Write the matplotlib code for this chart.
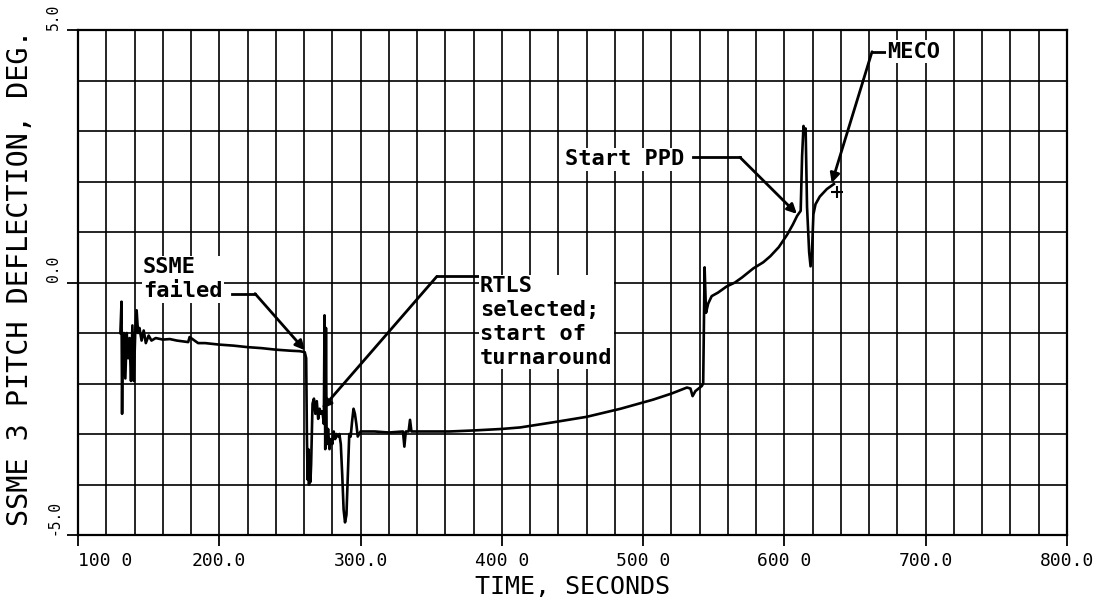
import numpy as np
import matplotlib.pyplot as plt

# trace
time_s = [130.0, 130.8, 131.2, 131.6, 132.5, 133.5, 134.5, 135.5, 136.5, 137.5,
          138.5, 139.5, 140.5, 141.5, 142.5, 143.5, 145.0, 146.5, 148.0, 150.0,
          152.0, 155.0, 160.0, 165.0, 170.0, 175.0, 178.0, 179.0, 185.0, 190.0,
          200.0, 210.0, 220.0, 230.0, 240.0, 250.0, 257.0, 260.5,
          261.5, 262.0, 262.5, 263.0, 263.5, 264.0, 264.5, 265.0, 265.5, 266.0,
          267.0, 268.0, 269.0, 270.0, 271.0, 272.0, 273.0, 274.0, 274.5, 275.0,
          275.5, 276.0, 277.0, 278.0, 279.0, 280.0, 281.0, 282.0, 283.0, 284.0,
          285.0, 286.0, 287.0, 288.0, 289.0, 290.0, 291.0, 292.0, 293.0, 294.0,
          295.0, 296.0, 297.0, 298.0, 300.0, 310.0, 320.0, 330.0, 331.0, 332.0,
          334.0, 335.0, 336.0, 350.0, 363.0, 380.0, 400.0, 413.0, 436.0, 460.0,
          484.0, 507.0, 520.0, 531.0, 533.5, 535.0, 537.0, 541.5, 542.5, 543.5,
          544.5, 546.0, 548.5, 553.0, 559.0, 565.0, 570.0, 578.0, 585.0, 590.0,
          596.0, 602.0, 606.0, 609.0, 611.5, 612.5, 613.5, 614.3, 615.0, 616.0,
          617.5, 618.5, 619.5, 620.5, 622.0, 625.0, 630.0, 635.0]
pitch_deg = [-1.0, -0.38, -2.6, -1.2, -1.0, -1.9, -1.0, -1.5, -1.1, -1.95,
             -0.85, -1.95, -1.0, -0.55, -1.0, -0.9, -1.15, -0.95, -1.2, -1.05,
             -1.15, -1.1, -1.13, -1.12, -1.15, -1.17, -1.18, -1.08, -1.2, -1.2,
             -1.23, -1.25, -1.28, -1.3, -1.33, -1.35, -1.36, -1.38,
             -1.5, -3.0, -3.9, -3.3, -4.0, -3.5, -3.95, -3.6, -3.0, -2.4,
             -2.3, -2.6, -2.35, -2.7, -2.5, -2.6, -2.55, -2.8, -0.65, -3.3,
             -0.9, -3.2, -2.9, -3.3, -3.1, -3.2, -2.95, -3.1, -3.0, -3.05,
             -3.0, -3.2, -3.8, -4.5, -4.75, -4.6, -3.8, -3.0, -3.05, -2.75,
             -2.5, -2.6, -2.8, -3.05, -2.95, -2.95, -2.97, -2.95, -3.25, -2.95,
             -2.95, -2.72, -2.95, -2.95, -2.95, -2.93, -2.9, -2.87, -2.77, -2.66,
             -2.5, -2.32, -2.2, -2.08, -2.1, -2.25, -2.15, -2.05, -2.0, 0.3,
             -0.6, -0.42, -0.27, -0.2, -0.08, 0.0, 0.1, 0.28, 0.4, 0.52,
             0.7, 0.95, 1.15, 1.32, 1.42, 2.5, 3.1, 2.95, 3.05, 1.5,
             0.6, 0.32, 0.6, 1.35, 1.55, 1.7, 1.85, 1.95]
end_mark = (637.5, 1.8)

x_ticks = [100, 200, 300, 400, 500, 600, 700, 800]
x_tick_labels = ["100 0", "200.0", "300.0", "400 0", "500 0", "600 0", "700.0", "800.0"]
y_ticks = [-5, 0, 5]
y_tick_labels = ["-5.0", "0.0", "5.0"]

mono = "DejaVu Sans Mono"

fig = plt.figure(figsize=(11.07, 6.14), dpi=100)
ax = fig.add_axes([78 / 1107, 1 - 535 / 614, 989 / 1107, 505 / 614])

ax.set_xlim(100, 800)
ax.set_ylim(-5, 5)
ax.set_xticks(x_ticks)
ax.set_xticklabels(x_tick_labels, fontfamily=mono, fontsize=13)
ax.get_xticklabels()[0].set_ha("left")
ax.set_xticks(np.arange(100, 801, 20), minor=True)
ax.set_yticks(y_ticks)
ax.set_yticklabels(y_tick_labels, fontfamily=mono, fontsize=10.5, rotation=90, va="bottom")
ax.set_yticks(np.arange(-5, 6, 1), minor=True)
ax.grid(which="both", color="k", lw=1.2)
ax.set_axisbelow(True)
ax.tick_params(which="minor", length=0)
ax.tick_params(which="major", length=8, width=1.3, pad=4)
for s in ax.spines.values():
    s.set_linewidth(1.6)

ax.plot(time_s, pitch_deg, color="k", lw=1.9, zorder=3)
ax.plot(*end_mark, marker="+", color="k", ms=9, mew=1.5, zorder=3)

ax.set_xlabel("TIME, SECONDS", fontfamily=mono, fontsize=18)
ax.set_ylabel("SSME 3 PITCH DEFLECTION, DEG.", fontfamily=mono, fontsize=20.5)
ax.yaxis.set_label_coords(-0.044, 0.51)

box = dict(facecolor="white", edgecolor="none", pad=1)
note = dict(fontfamily=mono, fontweight="bold", fontsize=15.8, linespacing=1.25,
            bbox=box, zorder=5)
arrow = dict(arrowstyle="-|>", color="k", lw=2, mutation_scale=14,
             shrinkA=0, shrinkB=0)


def leader(pts, tip):
    xs = [p[0] for p in pts]
    ys = [p[1] for p in pts]
    ax.plot(xs, ys, color="k", lw=2, zorder=4)
    ax.annotate("", xy=tip, xytext=pts[-1], arrowprops=arrow, zorder=4)


# SSME failed
ax.text(146, 0.06, "SSME\nfailed", ha="left", va="center", **note)
leader([(209, -0.22), (225.3, -0.22)], (260.6, np.interp(260.6, time_s, pitch_deg) + 0.05))

# RTLS selected
ax.text(384.5, -0.78, "RTLS\nselected;\nstart of\nturnaround", ha="left", va="center", **note)
leader([(383, 0.12), (354, 0.12)], (272.7, -2.5))

# Start PPD
ax.text(444.7, 2.44, "Start PPD", ha="left", va="center", **note)
leader([(535, 2.48), (568.5, 2.48)], (608.8, np.interp(608.8, time_s, pitch_deg) + 0.05))

# MECO
ax.text(673, 4.57, "MECO", ha="left", va="center", **note)
leader([(671, 4.57), (662, 4.57)], (633.5, np.interp(633.5, time_s, pitch_deg) + 0.05))

fig.savefig("out.png", dpi=100)
